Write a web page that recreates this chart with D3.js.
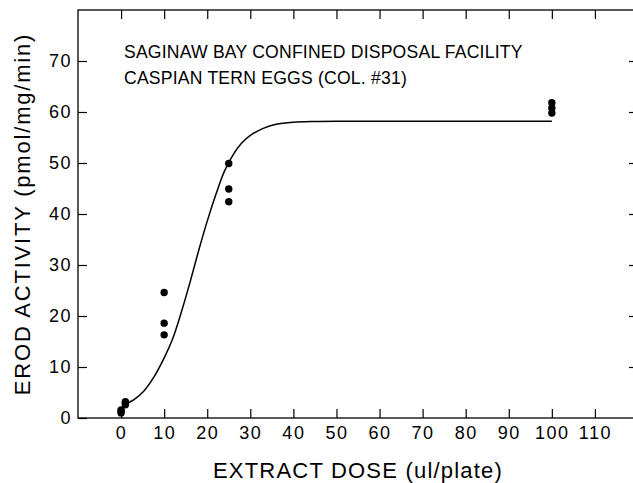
<!DOCTYPE html>
<html>
<head>
<meta charset="utf-8">
<script src="https://cdn.jsdelivr.net/npm/d3@7"></script>
<style>
  html, body { margin: 0; padding: 0; background: #fff; }
  svg { display: block; }
  text { font-family: "Liberation Sans", Arial, sans-serif; fill: #000; }
</style>
</head>
<body>
<svg id="chart" width="633" height="483"></svg>
<script>
// ---- data ----
const titleLines = ["SAGINAW BAY CONFINED DISPOSAL FACILITY", "CASPIAN TERN EGGS (COL. #31)"];
const xLabel = "EXTRACT DOSE (ul/plate)";
const yLabel = "EROD ACTIVITY (pmol/mg/min)";
const xTicks = [0, 10, 20, 30, 40, 50, 60, 70, 80, 90, 100, 110];
const yTicks = [0, 10, 20, 30, 40, 50, 60, 70];

// observed points (dose, activity)
const pointDose =     [0,   0,   0,   1,   1,   1,   10,   10,   10,   25,   25,   25,   100,  100,  100];
const pointActivity = [1.0, 1.3, 1.6, 2.6, 2.9, 3.2, 16.3, 18.6, 24.6, 42.4, 44.9, 49.9, 59.8, 60.8, 61.8];

// fitted curve
const curveDose =     [0.6, 3.0, 5.3, 7.6, 10.0, 12.0, 14.0, 16.0, 18.0, 20.0, 22.0, 24.0, 26.0, 28.0, 30.0, 33.0, 36.0, 40.0, 45.0, 50.0, 60.0, 80.0, 100.0];
const curveActivity = [2.6, 3.6, 5.3, 8.0, 11.8, 15.6, 20.8, 26.6, 32.8, 38.6, 43.8, 48.4, 51.6, 53.9, 55.4, 56.8, 57.6, 58.0, 58.15, 58.2, 58.2, 58.2, 58.2];

// ---- layout ----
const svg = d3.select("#chart");
const mLeft = 78, mRight = 638, mTop = 10, mBottom = 418;
const x = d3.scaleLinear().domain([-10, 120]).range([mLeft, mRight]);
const y = d3.scaleLinear().domain([0, 80]).range([mBottom, mTop]);

// frame
svg.append("rect")
  .attr("x", mLeft).attr("y", mTop)
  .attr("width", mRight - mLeft).attr("height", mBottom - mTop)
  .attr("fill", "none").attr("stroke", "#000").attr("stroke-width", 1.3);

function styleAxis(g) {
  g.select(".domain").remove();
  g.selectAll(".tick line").attr("stroke", "#000").attr("stroke-width", 1.2);
  g.selectAll(".tick text")
    .attr("font-family", "'Liberation Sans', Arial, sans-serif")
    .attr("font-size", 18)
    .attr("letter-spacing", 1.5)
    .attr("fill", "#000");
}

svg.append("g").attr("transform", `translate(0,${mBottom})`)
  .call(d3.axisBottom(x).tickValues(xTicks).tickSizeInner(-9).tickSizeOuter(0).tickPadding(8).tickFormat(d3.format("d")))
  .call(styleAxis);
svg.append("g").attr("transform", `translate(0,${mTop})`)
  .call(d3.axisTop(x).tickValues(xTicks).tickSizeInner(-9).tickSizeOuter(0).tickFormat(""))
  .call(styleAxis);
svg.append("g").attr("transform", `translate(${mLeft},0)`)
  .call(d3.axisLeft(y).tickValues(yTicks).tickSizeInner(-9).tickSizeOuter(0).tickPadding(6).tickFormat(d3.format("d")))
  .call(styleAxis);
svg.append("g").attr("transform", `translate(${mRight},0)`)
  .call(d3.axisRight(y).tickValues(yTicks.slice(1)).tickSizeInner(-9).tickSizeOuter(0).tickFormat(""))
  .call(styleAxis);

// curve
const curveData = curveDose.map((d, i) => [d, curveActivity[i]]);
svg.append("path")
  .datum(curveData)
  .attr("fill", "none").attr("stroke", "#000").attr("stroke-width", 1.5)
  .attr("d", d3.line().x(d => x(d[0])).y(d => y(d[1])).curve(d3.curveCatmullRom.alpha(0.5)));

// points
svg.append("g").selectAll("circle")
  .data(pointDose.map((d, i) => [d, pointActivity[i]]))
  .join("circle")
  .attr("cx", d => x(d[0])).attr("cy", d => y(d[1]))
  .attr("r", 3.7).attr("fill", "#000");

// title
svg.append("g").selectAll("text")
  .data(titleLines)
  .join("text")
  .attr("x", 124).attr("y", (d, i) => 58 + i * 26)
  .attr("font-size", 17.6).attr("letter-spacing", 0.2)
  .text(d => d);

// axis labels
svg.append("text")
  .attr("x", (mLeft + mRight) / 2).attr("y", 478)
  .attr("text-anchor", "middle")
  .attr("font-size", 22).attr("letter-spacing", 1.2)
  .text(xLabel);

svg.append("text")
  .attr("transform", `translate(30,${(mTop + mBottom) / 2}) rotate(-90)`)
  .attr("text-anchor", "middle")
  .attr("font-size", 22).attr("letter-spacing", 1.8)
  .text(yLabel);
</script>
</body>
</html>
